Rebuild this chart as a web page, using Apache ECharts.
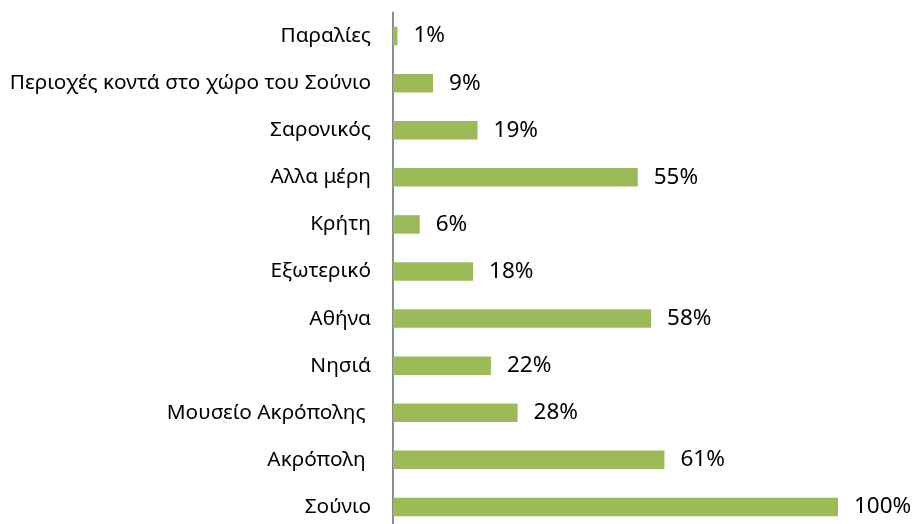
<!DOCTYPE html>
<html>
<head>
<meta charset="utf-8">
<script src="https://cdn.jsdelivr.net/npm/echarts@6/dist/echarts.min.js"></script>
<style>
html,body{margin:0;padding:0;background:#fff;}
#chart{width:915px;height:524px;}
</style>
</head>
<body>
<div id="chart"></div>
<script>
const categories = [
  "Παραλίες",
  "Περιοχές κοντά στο χώρο του Σούνιο",
  "Σαρονικός",
  "Αλλα μέρη",
  "Κρήτη",
  "Εξωτερικό",
  "Αθήνα",
  "Νησιά",
  "Μουσείο Ακρόπολης ",
  "Ακρόπολη ",
  "Σούνιο"
];
const values = [1, 9, 19, 55, 6, 18, 58, 22, 28, 61, 100];

const FONT = "'Noto Sans', 'Open Sans', sans-serif";
const chart = echarts.init(document.getElementById('chart'), null, {renderer: 'canvas'});
chart.setOption({
  animation: false,
  backgroundColor: '#ffffff',
  grid: {left: 393, right: 77, top: 12.5, height: 518, containLabel: false, outerBoundsMode: 'none'},
  xAxis: {
    type: 'value', min: 0, max: 100,
    show: false
  },
  yAxis: {
    type: 'category',
    data: categories,
    inverse: true,
    axisLine: {show: true, lineStyle: {color: '#8c8c8c', width: 2}},
    axisTick: {show: false},
    splitLine: {show: false},
    axisLabel: {
      margin: 22,
      color: '#000000',
      fontFamily: FONT,
      fontSize: 20.8
    }
  },
  series: [{
    type: 'bar',
    data: values,
    barWidth: 18.5,
    itemStyle: {color: '#9bbb59'},
    label: {
      show: true,
      position: 'right',
      distance: 16,
      formatter: '{c}%',
      color: '#000000',
      fontFamily: FONT,
      fontSize: 22.5
    }
  }]
});
</script>
</body>
</html>
